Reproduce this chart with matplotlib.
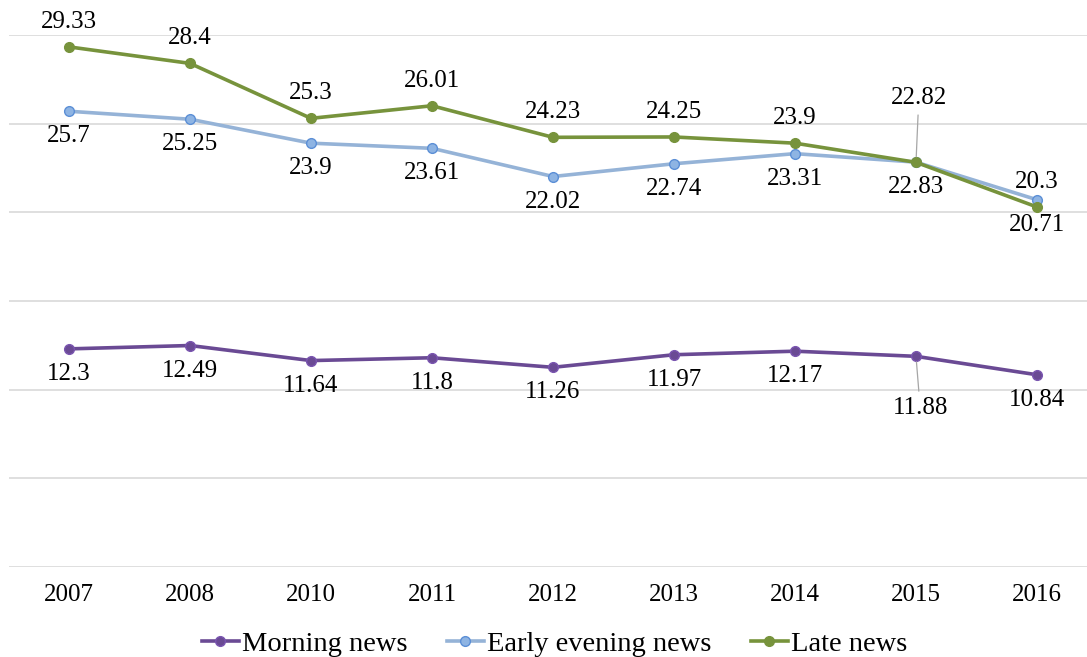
import matplotlib
matplotlib.use("Agg")
import matplotlib.pyplot as plt

# Daten
jahre = ["2007", "2008", "2010", "2011", "2012", "2013", "2014", "2015", "2016"]
morning = [12.3, 12.49, 11.64, 11.8, 11.26, 11.97, 12.17, 11.88, 10.84]
early_evening = [25.7, 25.25, 23.9, 23.61, 22.02, 22.74, 23.31, 22.83, 20.71]
late = [29.33, 28.4, 25.3, 26.01, 24.23, 24.25, 23.9, 22.82, 20.3]

plt.rcParams["font.family"] = ["Liberation Serif", "DejaVu Serif"]

fig = plt.figure(figsize=(10.87, 6.57), dpi=100)
ax = fig.add_axes([8.5 / 1087, 90 / 657, 1 - 8.5 / 1087, (567 - 35) / 657])

x = list(range(len(jahre)))

ax.plot(x, morning, color="#6a4a94", lw=2.6, marker="o", ms=7,
        mfc="#6a4a94", mec="#7a55b0", label="Morning news", zorder=3)
ax.plot(x, early_evening, color="#95b3d7", lw=2.6, marker="o", ms=7,
        mfc="#8eb4e3", mec="#5b8fd6", label="Early evening news", zorder=3)
ax.plot(x, late, color="#77933c", lw=2.6, marker="o", ms=7,
        mfc="#77933c", mec="#77933c", label="Late news", zorder=4)

# Beschriftungen der Punkte
def beschriften(werte, dy_standard, sonder=None):
    sonder = sonder or {}
    for i, w in enumerate(werte):
        dx, dy, linie = sonder.get(i, (0, dy_standard, False))
        arrow = None
        if linie:
            arrow = dict(arrowstyle="-", color="#a6a6a6", lw=0.9,
                         shrinkA=2, shrinkB=4)
        ax.annotate(f"{w:g}", (i, w), xytext=(dx, dy), textcoords="offset points",
                    ha="center", va="center", fontsize=18, color="black",
                    arrowprops=arrow, zorder=5)

beschriften(late, 18, {7: (2, 46, True)})
beschriften(early_evening, -18)
beschriften(morning, -18, {7: (3, -37, True)})

ax.set_xlim(-0.5, 8 + 50 / 121)
ax.set_ylim(0, 30)
ax.set_yticks([0, 5, 10, 15, 20, 25, 30])
ax.set_yticklabels([])
ax.tick_params(axis="y", length=0)
ax.tick_params(axis="x", length=0, pad=12, labelsize=18)
ax.set_xticks(x)
ax.set_xticklabels(jahre)
ax.grid(axis="y", color="#d9d9d9", lw=1.2)
ax.set_axisbelow(True)
for s in ax.spines.values():
    s.set_visible(False)

fig.legend(loc="center", bbox_to_anchor=(0.51, 0.02), ncol=3, frameon=False,
           fontsize=20.5, handlelength=1.3, handletextpad=0.1, columnspacing=1.4,
           borderpad=0)

fig.savefig("out.png", dpi=100)
